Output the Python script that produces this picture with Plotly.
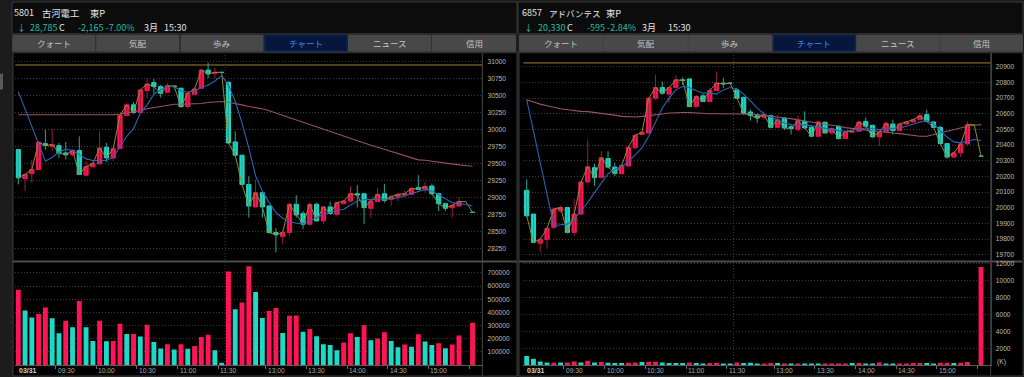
import plotly.graph_objects as go

W, H = 1024, 377

# ---------------- data : 5801 古河電工 (5-minute bars, index 0 = 09:00) ----------------
L_open = [
    29707, 29278, 29351, 29414, 29794, 29755, 29765, 29658, 29633, 29692,
    29331, 29453, 29497, 29741, 29585, 29721, 30209, 30364, 30252, 30574,
    30691, 30632, 30550, 30642, 30608, 30340, 30520, 30608, 30876, 30827,
    30842, 30696, 29819, 29624, 29195, 28864, 29073, 28878, 28488, 28430,
    28488, 28903, 28766, 28610, 28903, 28659, 28864, 28756, 28912, 28951,
    29058, 29058, 28844, 28942, 29058, 28976, 29010, 29039, 29049, 29146,
    29117, 29171, 29058, 28912, 28854, 28878, None, 28785]
L_high = [
    29707, 29351, 29560, 29828, 29999, 30013, 29804, 29819, 29707, 29902,
    29536, 29521, 29975, 29804, 29731, 30218, 30389, 30403, 30598, 30745,
    30745, 30657, 30681, 30657, 30618, 30559, 30618, 30886, 30983, 30915,
    30842, 30705, 29975, 29633, 29317, 29268, 29097, 28893, 28552, 28518,
    28927, 29039, 28805, 28927, 28927, 28878, 28942, 28942, 28961, 29171,
    29185, 29073, 28976, 29146, 29205, 29039, 29073, 29107, 29156, 29331,
    29234, 29205, 29073, 28927, 28900, 29010, None, 28785]
L_low = [
    29195, 29097, 29219, 29414, 29707, 29682, 29585, 29560, 29609, 29331,
    29317, 29439, 29487, 29526, 29536, 29721, 30194, 30228, 30243, 30462,
    30520, 30472, 30535, 30618, 30316, 30306, 30510, 30598, 30754, 30754,
    30842, 29790, 29614, 29185, 28708, 28854, 28708, 28474, 28196, 28318,
    28440, 28708, 28537, 28586, 28649, 28610, 28747, 28732, 28903, 28927,
    28854, 28610, 28708, 28927, 28927, 28873, 28951, 29000, 29039, 29107,
    29073, 29039, 28805, 28805, 28708, 28864, None, 28785]
L_close = [
    29292, 29341, 29414, 29814, 29765, 29780, 29658, 29629, 29697, 29341,
    29458, 29502, 29731, 29585, 29721, 30209, 30364, 30252, 30584, 30671,
    30632, 30535, 30647, 30632, 30340, 30535, 30598, 30876, 30818, 30842,
    30842, 29804, 29624, 29195, 28878, 29073, 28864, 28488, 28454, 28488,
    28903, 28747, 28610, 28903, 28659, 28864, 28766, 28927, 28951, 29058,
    29039, 28854, 28951, 29049, 28961, 29015, 29049, 29058, 29136, 29122,
    29166, 29058, 28912, 28844, 28888, 28942, 28942, 28785]
L_ma5 = [
    30559, None, None, None, 29536, 29595, 29668, 29716, 29692, 29633,
    29570, 29546, 29546, 29546, 29595, 29755, 29902, 30014, 30243, 30364,
    30520, 30584, 30642, 30632, 30569, 30550, 30569, 30618, 30657, 30715,
    30793, 30657, 30413, 30096, 29731, 29320, 29097, 28927, 28781, 28698,
    28649, 28625, 28620, 28659, 28708, 28756, 28781, 28815, 28829, 28893,
    28951, 28971, 28976, 28976, 28981, 28981, 29000, 29029, 29058, 29097,
    29122, 29097, 29039, 28976, 28927, 28912, 28903, 28878]
L_ma25 = [
    30218, 30218, 30218, 30218, 30218, 30218, 30218, 30218, 30218, 30218,
    30213, 30209, 30209, 30213, 30218, 30228, 30243, 30257, 30282, 30306,
    30325, 30340, 30355, 30374, 30374, 30374, 30379, 30384, 30399, 30408,
    30413, 30403, 30389, 30364, 30340, 30325, 30306, 30277, 30243, 30209,
    30174, 30135, 30101, 30067, 30033, 29999, 29970, 29936, 29902, 29872,
    29838, 29804, 29770, 29741, 29711, 29682, 29653, 29624, 29595, 29556,
    29551, 29536, 29521, 29507, 29492, 29482, 29473, 29463]
L_vol = [
    571000, 415000, 362000, 387000, 438000, 355000, 241000, 337000, 287000, 486000,
    287000, 183000, 337000, 181000, 183000, 314000, 236000, 236000, 216000, 307000,
    176000, 125000, 158000, 118000, 158000, 123000, 145000, 214000, 231000, 113000,
    17000, 710000, 423000, 476000, 750000, 554000, 357000, 410000, 433000, 244000,
    374000, 377000, 253000, 274000, 218000, 158000, 153000, 113000, 171000, 241000,
    214000, 302000, 188000, 201000, 249000, 183000, 135000, 156000, 140000, 234000,
    178000, 153000, 166000, 128000, 156000, 224000, None, 322000]
L_vol_up = [
    1, 0, 0, 1, 1, 0, 0, 1, 0, 1,
    0, 0, 1, 0, 1, 1, 0, 1, 0, 1,
    0, 0, 1, 0, 1, 0, 1, 1, 1, 0,
    0, 1, 0, 1, 1, 0, 0, 1, 1, 0,
    1, 1, 0, 1, 0, 0, 0, 0, 1, 1,
    0, 1, 0, 1, 1, 0, 0, 1, 0, 1,
    0, 0, 1, 0, 1, 1, 0, 1]
L_prev_close = 30950
L_price_ticks = [28250, 28500, 28750, 29000, 29250, 29500, 29750, 30000, 30250, 30500, 30750, 31000]
L_vol_ticks = [100000, 200000, 300000, 400000, 500000, 600000, 700000]

# ---------------- data : 6857 アドバンテスト ----------------
R_open = [
    20112, 19960, 19774, 19799, 19875, 19981, 20002, 19843, 19960, 20165,
    20256, 20193, 20315, 20260, 20218, 20267, 20383, 20468, 20478, 20700,
    20768, 20726, 20768, 20817, 20823, 20647, 20715, 20679, 20749, 20796,
    20796, 20753, 20705, 20612, 20588, 20578, 20588, 20514, 20573, 20518,
    20499, 20552, 20514, 20457, 20546, 20478, 20521, 20442, 20482, 20489,
    20552, 20527, 20453, 20482, 20535, 20493, 20535, 20548, 20563, 20595,
    20548, 20514, 20410, 20324, 20351, 20408, None, 20330]
R_high = [
    20182, 19964, 19805, 19875, 20002, 20013, 20007, 20055, 20171, 20436,
    20281, 20362, 20362, 20288, 20277, 20394, 20468, 20489, 20704, 20849,
    20806, 20775, 20844, 20832, 20827, 20722, 20726, 20764, 20870, 20830,
    20796, 20760, 20711, 20627, 20603, 20616, 20595, 20595, 20578, 20531,
    20590, 20616, 20527, 20556, 20552, 20514, 20527, 20489, 20495, 20556,
    20578, 20531, 20489, 20552, 20563, 20542, 20552, 20569, 20605, 20626,
    20552, 20521, 20415, 20357, 20413, 20552, None, 20330]
R_low = [
    19945, 19774, 19716, 19738, 19865, 19970, 19837, 19822, 19956, 20161,
    20140, 20190, 20252, 20203, 20214, 20260, 20379, 20468, 20472, 20690,
    20722, 20669, 20764, 20785, 20641, 20641, 20675, 20679, 20747, 20764,
    20796, 20696, 20595, 20557, 20542, 20563, 20506, 20510, 20499, 20468,
    20489, 20506, 20451, 20451, 20472, 20468, 20438, 20438, 20478, 20485,
    20514, 20446, 20394, 20478, 20468, 20489, 20531, 20544, 20559, 20552,
    20510, 20404, 20315, 20315, 20324, 20404, None, 20330]
R_close = [
    19949, 19780, 19799, 19869, 19992, 20002, 19843, 19960, 20165, 20262,
    20193, 20320, 20260, 20220, 20271, 20387, 20463, 20482, 20700, 20768,
    20732, 20768, 20817, 20813, 20647, 20711, 20679, 20749, 20796, 20791,
    20796, 20700, 20605, 20590, 20573, 20595, 20514, 20563, 20510, 20506,
    20557, 20510, 20457, 20548, 20478, 20506, 20442, 20485, 20489, 20548,
    20521, 20453, 20482, 20540, 20493, 20535, 20548, 20563, 20588, 20552,
    20514, 20410, 20324, 20351, 20408, 20531, 20531, 20330]
R_ma5 = [
    20690, None, None, None, 19886, 19892, 19896, 19928, 19981, 20034,
    20097, 20161, 20218, 20245, 20262, 20294, 20341, 20383, 20457, 20552,
    20637, 20700, 20753, 20774, 20768, 20747, 20732, 20732, 20726, 20753,
    20768, 20760, 20726, 20683, 20637, 20599, 20578, 20563, 20542, 20531,
    20527, 20531, 20523, 20516, 20510, 20501, 20493, 20489, 20497, 20504,
    20510, 20506, 20499, 20504, 20508, 20510, 20521, 20535, 20548, 20557,
    20535, 20493, 20451, 20421, 20415, 20425, 20436, 20430]
R_ma25 = [
    20690, 20675, 20662, 20652, 20641, 20633, 20626, 20620, 20616, 20614,
    20609, 20605, 20599, 20592, 20584, 20582, 20580, 20584, 20588, 20595,
    20599, 20605, 20609, 20609, 20609, 20605, 20603, 20601, 20601, 20601,
    20601, 20601, 20601, 20599, 20595, 20590, 20584, 20580, 20573, 20567,
    20563, 20554, 20548, 20542, 20535, 20527, 20521, 20512, 20506, 20499,
    20495, 20491, 20489, 20482, 20478, 20474, 20468, 20463, 20457, 20457,
    20468, 20478, 20489, 20499, 20510, 20521, 20527, 20531]
R_vol = [  # thousands of shares
    1064, 749, 433, 315, 276, 315, 315, 433, 315, 512,
    315, 355, 276, 236, 236, 276, 315, 355, 394, 394,
    315, 236, 236, 236, 315, 236, 197, 236, 236, 197,
    79, 315, 236, 276, 197, 197, 236, 236, 197, 197,
    197, 197, 197, 197, 197, 197, 197, 197, 236, 236,
    197, 197, 315, 197, 197, 197, 197, 236, 236, 236,
    197, 276, 276, 236, 276, 355, None, 11623]
R_vol_up = [
    0, 0, 0, 0, 1, 0, 1, 1, 0, 1,
    0, 1, 0, 0, 0, 1, 1, 0, 1, 1,
    0, 0, 0, 0, 1, 0, 0, 1, 1, 0,
    0, 1, 0, 0, 0, 1, 1, 0, 1, 0,
    1, 0, 0, 0, 1, 1, 1, 1, 0, 1,
    0, 0, 1, 0, 0, 1, 1, 1, 1, 0,
    0, 1, 1, 0, 1, 1, 0, 1]
R_prev_close = 20925
R_price_ticks = [19700, 19800, 19900, 20000, 20100, 20200, 20300, 20400, 20500, 20600, 20700, 20800, 20900]
R_vol_ticks = [2000, 4000, 6000, 8000, 10000, 12000]

# time axis (bar-boundary positions); last tick is the unlabeled 15:30 mark
TIME_POS = [5.5, 11.5, 17.5, 23.5, 29.5, 36.5, 42.5, 48.5, 54.5, 60.5]
TIME_TXT = ["09:30", "10:00", "10:30", "11:00", "11:30", "13:00", "13:30", "14:00", "14:30", "15:00"]
END_TICK = 66.5
DATE_TXT = "03/31"
SESSION_BREAK = 30.5

TABS = ["クォート", "気配", "歩み", "チャート", "ニュース", "信用"]

# ---------------- styling ----------------
PINK = "#ff1458"
CYAN = "#1ed8c8"
PINK_WICK = "#9c1a40"
CYAN_WICK = "#1fa89a"
OLIVE = "#8e8e24"
BLUE = "#2d64b4"
MAUVE = "#9a5068"
PREV = "#9c8436"
GRID = "#3c3c3c"
TICKC = "#bcbcbc"
TEAL_TXT = "#22bba6"
JP = "Noto Sans CJK JP"
NUMF = "Liberation Sans"

fig = go.Figure()


def fx(p):
    return p / W


def fy(p):
    return 1 - p / H


def add_panel(sfx_price, sfx_vol, O, Hh, Lw, C, ma5, ma25, vol, vol_up):
    xs = list(range(len(C)))
    xa_p, ya_p = "x" + sfx_price, "y" + sfx_price
    xa_v, ya_v = "x" + sfx_vol, "y" + sfx_vol
    fig.add_trace(go.Scatter(x=xs, y=ma25, mode="lines", line=dict(color=MAUVE, width=1.1),
                             xaxis=xa_p, yaxis=ya_p, connectgaps=True, hoverinfo="skip"))
    for up, col in ((True, PINK_WICK), (False, CYAN_WICK)):
        wx, wy = [], []
        for i in xs:
            if O[i] is None:
                continue
            if (C[i] > O[i]) == up:
                wx += [i, i, None]
                wy += [Lw[i], Hh[i], None]
        fig.add_trace(go.Scatter(x=wx, y=wy, mode="lines", line=dict(color=col, width=1),
                                 xaxis=xa_p, yaxis=ya_p, hoverinfo="skip"))
    for up, col in ((True, PINK), (False, CYAN)):
        bx, bb, bh = [], [], []
        for i in xs:
            if O[i] is None:
                continue
            if (C[i] > O[i]) == up:
                bx.append(i)
                bb.append(O[i])
                bh.append(C[i] - O[i])
        fig.add_trace(go.Bar(x=bx, y=bh, base=bb, width=0.62,
                             marker=dict(color=col, line=dict(color=col, width=1)),
                             xaxis=xa_p, yaxis=ya_p, hoverinfo="skip"))
    fig.add_trace(go.Scatter(x=xs, y=C, mode="lines", line=dict(color=OLIVE, width=1),
                             xaxis=xa_p, yaxis=ya_p, hoverinfo="skip"))
    fig.add_trace(go.Scatter(x=xs, y=ma5, mode="lines", line=dict(color=BLUE, width=1.1),
                             xaxis=xa_p, yaxis=ya_p, connectgaps=True, hoverinfo="skip"))
    vx = [i for i in xs if vol[i] is not None]
    fig.add_trace(go.Bar(x=vx, y=[vol[i] for i in vx], width=0.72,
                         marker=dict(color=[PINK if vol_up[i] else CYAN for i in vx], line=dict(width=0)),
                         xaxis=xa_v, yaxis=ya_v, hoverinfo="skip"))


add_panel("", "2", L_open, L_high, L_low, L_close, L_ma5, L_ma25, L_vol, L_vol_up)
add_panel("3", "4", R_open, R_high, R_low, R_close, R_ma5, R_ma25, R_vol, R_vol_up)

# ---------------- axes ----------------
PANE_P = [fy(260), fy(51.5)]
PANE_V = [fy(365), fy(262)]
LDOM = [fx(15.3), fx(482.3)]
RDOM = [fx(523.3), fx(990.5)]
LRANGE = [-0.44, 68.44]
RRANGE = [-0.5, 68.4]

common_x = dict(showgrid=False, zeroline=False, fixedrange=True)
xp = dict(common_x, showticklabels=False, ticks="", showline=False)
xv = dict(common_x, showticklabels=False, ticks="outside", ticklen=3, tickcolor="#707070",
          tickvals=TIME_POS + [END_TICK], showline=True, linecolor="#5a5a5a", linewidth=1)
ycommon = dict(side="right", showgrid=True, griddash="1px,2px", gridcolor=GRID, gridwidth=1,
               zeroline=False, fixedrange=True, ticks="", tickformat="d", showline=True,
               linecolor="#3e3e3e", linewidth=1,
               tickfont=dict(family=NUMF, size=6.6, color=TICKC), ticklabelstandoff=3)

fig.update_layout(
    xaxis=dict(xp, domain=LDOM, range=LRANGE, anchor="y"),
    xaxis2=dict(xv, domain=LDOM, range=LRANGE, anchor="y2"),
    xaxis3=dict(xp, domain=RDOM, range=RRANGE, anchor="y3"),
    xaxis4=dict(xv, domain=RDOM, range=RRANGE, anchor="y4"),
    yaxis=dict(ycommon, domain=PANE_P, range=[28075, 31123], anchor="x", tickvals=L_price_ticks),
    yaxis2=dict(ycommon, domain=PANE_V, range=[0, 778000], anchor="x2", tickvals=L_vol_ticks),
    yaxis3=dict(ycommon, domain=PANE_P, range=[19663, 20987], anchor="x3", tickvals=R_price_ticks),
    yaxis4=dict(ycommon, domain=PANE_V, range=[0, 12150], anchor="x4", tickvals=R_vol_ticks),
)

# ---------------- chrome : backgrounds, tabs, lines ----------------
shapes = []


def rect(x0, y0, x1, y1, fill, line=None, lw=0, layer="below"):
    shapes.append(dict(type="rect", xref="paper", yref="paper", x0=fx(x0), x1=fx(x1), y0=fy(y1), y1=fy(y0),
                       fillcolor=fill, line=dict(color=line or fill, width=lw), layer=layer))


def hline(x0, x1, y, color, w=1, dash="solid", layer="below"):
    shapes.append(dict(type="line", xref="paper", yref="paper", x0=fx(x0), x1=fx(x1), y0=fy(y), y1=fy(y),
                       line=dict(color=color, width=w, dash=dash), layer=layer))


def vline(x, y0, y1, color, w=1, dash="solid", layer="below"):
    shapes.append(dict(type="line", xref="paper", yref="paper", x0=fx(x), x1=fx(x), y0=fy(y1), y1=fy(y0),
                       line=dict(color=color, width=w, dash=dash), layer=layer))


rect(0, 0, 12, 377, "#1c1c1c")
rect(0, 72, 3, 88, "#5a5a5a")
for (px0, px1) in ((12, 517), (518, 1023)):
    rect(px0, 0, px1, 32, "#0c0c0c", "#383838", 1)
    rect(px0, 33, px1, 50, "#1a1a1a")
    rect(px0 + 1, 50, px1, 376, "#000000", "#3a3a3a", 1)
vline(482.3, 51, 376, "#3e3e3e")
vline(990.7, 51, 376, "#3e3e3e")
hline(13, 517, 261, "#4c4c4c", 2)
hline(519, 1022, 261, "#4c4c4c", 2)
hline(13, 517, 51, "#3a3a3a", 1)
hline(519, 1022, 51, "#3a3a3a", 1)

L_TAB_X = [(12.7, 95), (96.7, 179), (181, 263), (265, 347), (348.5, 431), (432.5, 515.5)]
R_TAB_X = [(519.3, 603.3), (604.5, 687.7), (688.7, 772), (773.3, 855.3), (856.7, 939.3), (940.3, 1022.5)]
annotations = []


def text(x, y, s, size=9, color="#e4e4e4", anchor="left", family=JP, xref="paper"):
    annotations.append(dict(xref=xref, yref="paper", x=(x if xref != "paper" else fx(x)), y=fy(y), text=s,
                            showarrow=False, xanchor=anchor, yanchor="middle",
                            font=dict(family=family, size=size, color=color), borderpad=0))


for tabx in (L_TAB_X, R_TAB_X):
    for k, (a, b) in enumerate(tabx):
        sel = TABS[k] == "チャート"
        rect(a, 33.3, b, 49.3, "#07173c" if sel else "#484848", "#0d2a66" if sel else "#484848", 1)
        text((a + b) / 2, 41.5, TABS[k], size=8.5, color="#3d8ee6" if sel else "#c4c4c4", anchor="center")

text(13.3, 11, "5801", 9)
text(40.7, 11, "古河電工", 9.3)
text(89.3, 11, "東P", 9.3)
text(16, 25.7, "↓", 9, TEAL_TXT)
text(29.3, 25.7, "28,785", 9, TEAL_TXT)
text(58.3, 25.7, "C", 9)
text(76.7, 25.7, "-2,165 -7.00%", 9, TEAL_TXT)
text(143.3, 25.7, "3月", 9)
text(163.3, 25.7, "15:30", 9)

text(521, 11, "6857", 9)
text(548.3, 11, "アドバンテス", 8.5)
text(604.5, 11, "東P", 9.3)
text(523.3, 25.7, "↓", 9, TEAL_TXT)
text(537.3, 25.7, "20,330", 9, TEAL_TXT)
text(565.5, 25.7, "C", 9)
text(586, 25.7, "-595 -2.84%", 9, TEAL_TXT)
text(641, 25.7, "3月", 9)
text(666.7, 25.7, "15:30", 9)

for xr, yr, pc in (("x", "y", L_prev_close), ("x3", "y3", R_prev_close)):
    shapes.append(dict(type="line", xref=xr + " domain", yref=yr, x0=0, x1=1, y0=pc, y1=pc,
                       line=dict(color=PREV, width=1), layer="below"))
for xr in ("x", "x3"):
    shapes.append(dict(type="line", xref=xr, yref="paper", x0=SESSION_BREAK, x1=SESSION_BREAK,
                       y0=fy(365), y1=fy(51.5), line=dict(color="#3c3c3c", width=1, dash="1px,2px"),
                       layer="below"))

for xr in ("x2", "x4"):
    annotations.append(dict(xref=xr + " domain", yref="paper", x=0.004, y=fy(370.5), text="<b>" + DATE_TXT + "</b>",
                            showarrow=False, xanchor="left", yanchor="middle",
                            font=dict(family=NUMF, size=7, color="#d0d0d0")))
    for p, s in zip(TIME_POS, TIME_TXT):
        annotations.append(dict(xref=xr, yref="paper", x=p, y=fy(370.5), text=s, showarrow=False,
                                xanchor="left", yanchor="middle", xshift=0,
                                font=dict(family=NUMF, size=6.7, color="#a8a8a8")))

text(995.5, 361.5, "(K)", 6.8, TICKC, family=NUMF)

fig.update_layout(
    width=W, height=H, margin=dict(l=0, r=0, t=0, b=0),
    paper_bgcolor="#1c1c1c", plot_bgcolor="rgba(0,0,0,0)",
    showlegend=False, barmode="overlay", hovermode=False,
    shapes=shapes, annotations=annotations,
)

fig.write_html("out.html", config={"displayModeBar": False},
               post_script="document.body.style.margin='0';document.body.style.overflow='hidden';")
